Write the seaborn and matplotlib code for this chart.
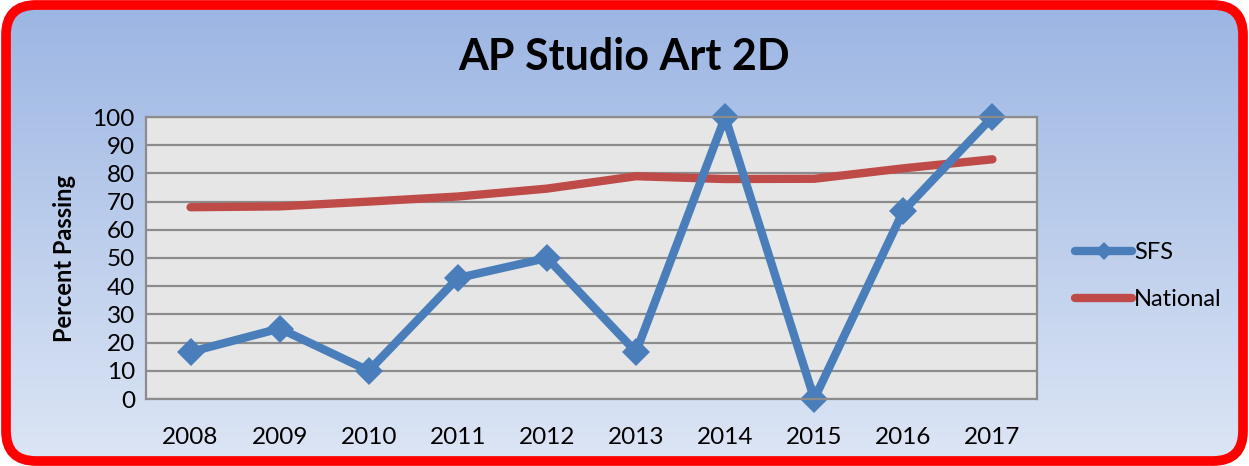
import numpy as np
import pandas as pd
import matplotlib
matplotlib.use("Agg")
import matplotlib.pyplot as plt
import seaborn as sns
from matplotlib.patches import FancyBboxPatch
from matplotlib.lines import Line2D

# === Data ===
years = ["2008", "2009", "2010", "2011", "2012", "2013", "2014", "2015", "2016", "2017"]
sfs = [16.7, 25.0, 10.0, 42.9, 50.0, 16.7, 100.0, 0.0, 66.7, 100.0]
national = [68.0, 68.3, 70.0, 71.8, 74.6, 79.0, 78.0, 78.1, 81.8, 85.0]

df = pd.DataFrame({"pos": range(len(years)), "SFS": sfs, "National": national})

BLUE = "#4a7ebb"
RED = "#be4b48"

sns.set_style("white")
plt.rcParams["font.family"] = ["Lato", "DejaVu Sans"]
for key in ["text.color", "axes.labelcolor", "xtick.color", "ytick.color"]:
    plt.rcParams[key] = "black"

fig = plt.figure(figsize=(12.49, 4.66), dpi=100)
fig.patch.set_facecolor("white")

# === Background: gradient inside red rounded frame ===
bg = fig.add_axes([0, 0, 1, 1], zorder=-10)
bg.set_xlim(0, 1249)
bg.set_ylim(466, 0)
bg.axis("off")
grad = np.linspace(0, 1, 256).reshape(-1, 1)
top_c = np.array([0x9b, 0xb5, 0xe3]) / 255
bot_c = np.array([0xdd, 0xe6, 0xf5]) / 255
img = top_c + grad[..., None] * (bot_c - top_c)
im = bg.imshow(img, extent=[0, 1249, 466, 0], aspect="auto")
frame = FancyBboxPatch((6, 5), 1237, 456, boxstyle="round,pad=0,rounding_size=30",
                       facecolor="none", edgecolor="#ff0000", linewidth=7)
bg.add_patch(frame)
im.set_clip_path(frame)

# === Main axes ===
ax = fig.add_axes([146 / 1249, 1 - 399 / 466, (1037 - 146) / 1249, (399 - 117) / 466])
ax.set_facecolor("#e6e6e6")

sns.lineplot(data=df, x="pos", y="National", color=RED, linewidth=6, ax=ax)
sns.lineplot(data=df, x="pos", y="SFS", color=BLUE, linewidth=6, marker="D",
             markersize=14, markeredgewidth=0, ax=ax)
for ln in ax.get_lines():
    ln.set_solid_capstyle("round")
    ln.set_solid_joinstyle("round")
    ln.set_clip_on(False)

ax.set_xlim(-0.5, len(years) - 0.5)
ax.set_ylim(0, 100)
ax.set_yticks(range(0, 101, 10))
ax.set_xticks(range(len(years)))
ax.set_xticklabels(years)
ax.tick_params(axis="both", labelsize=17.5, length=0)
ax.tick_params(axis="x", pad=20)
ax.tick_params(axis="y", pad=8)
ax.yaxis.grid(True, color="#8c8c8c", linewidth=1.6)
ax.set_axisbelow(True)
for side in ["top", "right", "bottom", "left"]:
    ax.spines[side].set_color("#8c8c8c")
    ax.spines[side].set_linewidth(1.6)
ax.set_xlabel("")
ax.set_ylabel("Percent Passing", fontsize=17, fontweight="bold", labelpad=12)

fig.text(0.5, 1 - 57 / 466, "AP Studio Art 2D", ha="center", va="center",
         fontsize=31, fontweight="bold")

handles = [
    Line2D([], [], color=BLUE, linewidth=6, marker="D", markersize=9,
           markeredgewidth=0, solid_capstyle="round"),
    Line2D([], [], color=RED, linewidth=6, solid_capstyle="round"),
]
fig.legend(handles, ["SFS", "National"], loc="center left",
           bbox_to_anchor=(1054 / 1249, 1 - 276 / 466), frameon=False,
           fontsize=17, handlelength=2.4, handletextpad=0.1, labelspacing=1.1)

plt.savefig("out.png", dpi=100)
plt.close()
